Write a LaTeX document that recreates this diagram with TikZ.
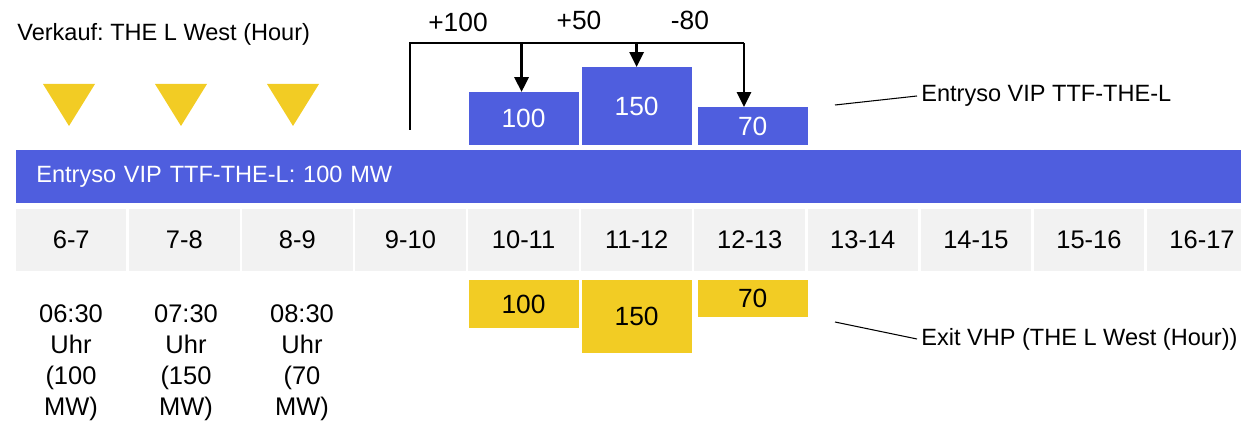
\documentclass[tikz,border=0pt]{standalone}
\usepackage{fontspec}
\setmainfont{Liberation Sans}
\usetikzlibrary{arrows.meta,positioning}
\frenchspacing

\definecolor{barblue}{RGB}{79,94,222}
\definecolor{cellgray}{RGB}{242,242,242}
\definecolor{exyellow}{RGB}{242,204,36}

\begin{document}
\begin{tikzpicture}[x=0.02cm, y=-0.02cm, node distance=0.052cm,
        hour/.style={rectangle, fill=cellgray, minimum width=2.21cm, minimum height=1.24cm, inner sep=0pt, outer sep=0pt, font=\fontsize{14.5}{17}\selectfont},
        enbox/.style={rectangle, fill=barblue, text=white, minimum width=2.2cm, inner sep=0pt, outer sep=0pt, font=\fontsize{15}{17}\selectfont},
        exbox/.style={rectangle, fill=exyellow, minimum width=2.2cm, inner sep=0pt, outer sep=0pt, font=\fontsize{15}{17}\selectfont},
        txt/.style={inner sep=0pt, font=\fontsize{13.4}{16}\selectfont},
        num/.style={inner sep=0pt, font=\fontsize{15}{17}\selectfont},
        note/.style={inner sep=0pt, align=center, font=\fontsize{14.5}{17.6}\selectfont},
        flow/.style={line width=1.6pt},
        callout/.style={line width=0.6pt}]

        \useasboundingbox (0,0) rectangle (1241,425);
        \clip (0,0) rectangle (1241,425);

        \node[txt, anchor=west] (sale) at (17,34) {Verkauf: THE L West (Hour)};
        \foreach \x in {69,181,293}
            \fill[exyellow] (\x-26,84) -- (\x+26,84) -- (\x,126) -- cycle;

        % main bar
        \node[rectangle, fill=barblue, text=white, anchor=north west, minimum height=1.06cm,
              text width=24.4cm, inner xsep=0.4cm, inner ysep=0pt, align=left,
              font=\fontsize{13.4}{16}\selectfont] (bar) at (16,150) {Entryso VIP TTF-THE-L: 100 MW};

        % hours
        \node[hour] (h67) at (71.25,240) {6-7};
        \node[hour, right=of h67] (h78) {7-8};
        \node[hour, right=of h78] (h89) {8-9};
        \node[hour, right=of h89] (h910) {9-10};
        \node[hour, right=of h910] (h1011) {10-11};
        \node[hour, right=of h1011] (h1112) {11-12};
        \node[hour, right=of h1112] (h1213) {12-13};
        \node[hour, right=of h1213] (h1314) {13-14};
        \node[hour, right=of h1314] (h1415) {14-15};
        \node[hour, right=of h1415] (h1516) {15-16};
        \node[hour, right=of h1516] (h1617) {16-17};

        % entry boxes
        \coordinate (enbase) at (0,145);
        \node[enbox, anchor=south, minimum height=1.06cm] (en100) at (h1011 |- enbase) {100};
        \node[enbox, anchor=south, minimum height=1.56cm] (en150) at (h1112 |- enbase) {150};
        \node[enbox, anchor=south, minimum height=0.76cm] (en70) at ([xshift=0.06cm]h1213 |- enbase) {70};

        % exit boxes
        \coordinate (exbase) at (0,280);
        \node[exbox, anchor=north, minimum height=0.96cm] (ex100) at (h1011 |- exbase) {100};
        \node[exbox, anchor=north, minimum height=1.46cm] (ex150) at (h1112 |- exbase) {150};
        \node[exbox, anchor=north, minimum height=0.74cm] (ex70) at ([xshift=0.06cm]h1213 |- exbase) {70};

        % changes
        \coordinate (bstart) at (410,130);
        \coordinate (btop) at (410,43);
        \coordinate (bend) at (744,43);
        \draw[flow] (bstart) -- (btop) -- (bend);
        \draw[flow, -{Triangle[width=8pt, length=8.5pt]}] ([xshift=-0.04cm]en100.north |- btop) -- ([xshift=-0.04cm]en100.north);
        \draw[flow, -{Triangle[width=8pt, length=8.5pt]}] (en150.north |- btop) -- (en150.north);
        \draw[flow, -{Triangle[width=8pt, length=8.5pt]}] (bend) -- (bend |- en70.north);
        \node[num] (d100) at (458,22) {+100};
        \node[num] (d50) at (579,20) {+50};
        \node[num] (d80) at (690,20) {-80};

        % callouts
        \node[txt, anchor=west, inner xsep=0.08cm] (lblen) at (917,96) {Entryso VIP TTF-THE-L};
        \coordinate (enpt) at (835,105);
        \draw[callout] (enpt) -- (lblen.west);
        \node[txt, anchor=west, inner xsep=0.08cm] (lblex) at (917,339) {Exit VHP (THE L West (Hour))};
        \coordinate (expt) at (835,322);
        \draw[callout] (expt) -- (lblex.west);

        % sale times
        \node[note] (t0630) at (71,363) {06:30\\Uhr\\(100\\MW)};
        \node[note] (t0730) at (186,363) {07:30\\Uhr\\(150\\MW)};
        \node[note] (t0830) at (302,363) {08:30\\Uhr\\(70\\MW)};

    \end{tikzpicture}
\end{document}
